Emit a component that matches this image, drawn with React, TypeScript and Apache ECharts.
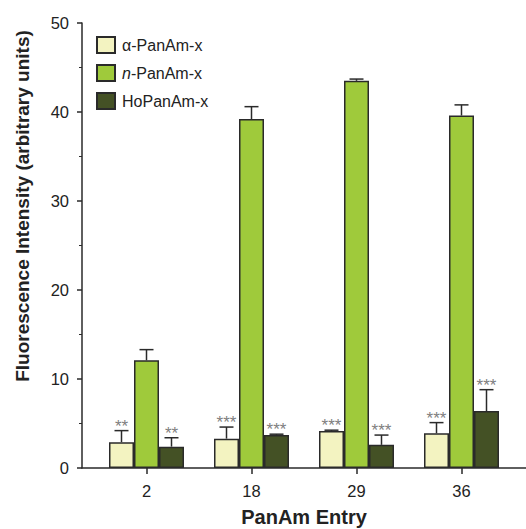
import React, { useEffect, useRef } from "react";
import * as echarts from "echarts";

const categories = ["2", "18", "29", "36"];
const seriesNames = ["α-PanAm-x", "n-PanAm-x", "HoPanAm-x"];
const alphaMeans = [2.9, 3.3, 4.15, 3.9];
const alphaErrors = [1.3, 1.3, 0.1, 1.2];
const nMeans = [12.1, 39.2, 43.5, 39.6];
const nErrors = [1.2, 1.4, 0.2, 1.2];
const hoMeans = [2.4, 3.7, 2.6, 6.4];
const hoErrors = [1.0, 0.1, 1.1, 2.4];
const alphaStars = ["**", "***", "***", "***"];
const nStars = ["", "", "", ""];
const hoStars = ["**", "***", "***", "***"];
const yTicks = { min: 0, max: 50, interval: 10 };

const colors = ["#f3f3c1", "#9fca3b", "#445125"];
const BAR_W = 25;

export default function App() {
  const ref = useRef<HTMLDivElement>(null);
  useEffect(() => {
    if (!ref.current) return;
    const chart = echarts.init(ref.current, undefined, { renderer: "svg" });
    const means = [alphaMeans, nMeans, hoMeans];
    const errs = [alphaErrors, nErrors, hoErrors];
    const stars = [alphaStars, nStars, hoStars];
    const offsets = [-BAR_W, 0, BAR_W];

    const barSeries = seriesNames.map((name, i) => ({
      name,
      type: "bar",
      xAxisIndex: 0,
      yAxisIndex: 0,
      data: means[i],
      barWidth: BAR_W,
      barGap: "0%",
      itemStyle: { color: colors[i], borderColor: "#2a2a2a", borderWidth: 1.5 },
      z: 2,
    }));

    const errSeries = seriesNames.map((name, i) => ({
      type: "custom",
      xAxisIndex: 0,
      yAxisIndex: 0,
      z: 5,
      silent: true,
      data: means[i].map((m, k) => [k, m, m + errs[i][k], k]),
      encode: { x: 0, y: [1, 2] },
      renderItem: (params: any, api: any) => {
        const k = api.value(0);
        const base = api.coord([k, api.value(1)]);
        const top = api.coord([k, api.value(2)]);
        const x = base[0] + offsets[i];
        const children: any[] = [
          {
            type: "line",
            shape: { x1: x, y1: base[1], x2: x, y2: top[1] },
            style: { stroke: "#2a2a2a", lineWidth: 1.5 },
          },
          {
            type: "line",
            shape: { x1: x - 7, y1: top[1], x2: x + 7, y2: top[1] },
            style: { stroke: "#2a2a2a", lineWidth: 1.5 },
          },
        ];
        const s = stars[i][api.value(3)];
        if (s) {
          children.push({
            type: "text",
            style: {
              text: s,
              x: x,
              y: top[1] + 4,
              align: "center",
              verticalAlign: "bottom",
              fontSize: 17,
              fontFamily: "Liberation Sans, Arial, sans-serif",
              fill: "#808080",
            },
          });
        }
        return { type: "group", children };
      },
    }));

    chart.setOption({
      animation: false,
      textStyle: { fontFamily: "Liberation Sans, Arial, sans-serif" },
      grid: [
        { left: 94, width: 420, top: 23, height: 445 },
        { left: 82, right: 0, top: 23, height: 445 },
      ],
      legend: {
        orient: "vertical",
        left: 96,
        top: 36,
        padding: 0,
        icon: "rect",
        itemWidth: 18,
        itemHeight: 16,
        itemGap: 10,
        data: seriesNames,
        formatter: (name: string) =>
          name === "n-PanAm-x" ? "{i|n}{r|-PanAm-x}" : "{r|" + name + "}",
        textStyle: {
          fontSize: 16,
          color: "#222",
          padding: [0, 0, 0, 2],
          rich: {
            i: { fontStyle: "italic", fontSize: 16, color: "#222" },
            r: { fontSize: 16, color: "#222" },
          },
        },
      },
      xAxis: [
        {
          type: "category",
          gridIndex: 0,
          data: categories,
          axisLine: { show: false, onZero: false },
          axisTick: {
            show: true,
            alignWithLabel: true,
            length: 6,
            lineStyle: { color: "#2a2a2a", width: 1.5 },
          },
          axisLabel: { fontSize: 16.5, color: "#222", margin: 14 },
          splitLine: { show: false },
        },
        {
          type: "value",
          gridIndex: 1,
          min: 0,
          max: 1,
          axisLine: { show: true, onZero: false, lineStyle: { color: "#2a2a2a", width: 1.5 } },
          axisTick: { show: false },
          axisLabel: { show: false },
          splitLine: { show: false },
        },
      ],
      yAxis: [
        {
          type: "value",
          gridIndex: 0,
          min: yTicks.min,
          max: yTicks.max,
          interval: yTicks.interval,
          offset: 12,
          axisLine: { show: true, lineStyle: { color: "#2a2a2a", width: 1.5 } },
          axisTick: { show: true, length: 5, lineStyle: { color: "#2a2a2a", width: 1.5 } },
          minorTick: { show: true, splitNumber: 2, length: 3, lineStyle: { color: "#2a2a2a", width: 1 } },
          axisLabel: { fontSize: 16.5, color: "#222", margin: 13 },
          splitLine: { show: false },
        },
        { type: "value", gridIndex: 1, show: false, min: 0, max: 1 },
      ],
      graphic: [
        {
          type: "text",
          x: 22,
          y: 206,
          rotation: Math.PI / 2,
          style: {
            text: "Fluorescence Intensity (arbitrary units)",
            align: "center",
            verticalAlign: "middle",
            fontSize: 19,
            fontWeight: "bold",
            fontFamily: "Liberation Sans, Arial, sans-serif",
            fill: "#222",
          },
        },
        {
          type: "text",
          x: 304,
          y: 517,
          style: {
            text: "PanAm Entry",
            align: "center",
            verticalAlign: "middle",
            fontSize: 20,
            fontWeight: "bold",
            fontFamily: "Liberation Sans, Arial, sans-serif",
            fill: "#222",
          },
        },
      ],
      series: [...barSeries, ...errSeries],
    });
    return () => chart.dispose();
  }, []);
  return (
    <div
      ref={ref}
      style={{ position: "absolute", left: 0, top: 0, width: 526, height: 529, background: "#fff" }}
    />
  );
}
